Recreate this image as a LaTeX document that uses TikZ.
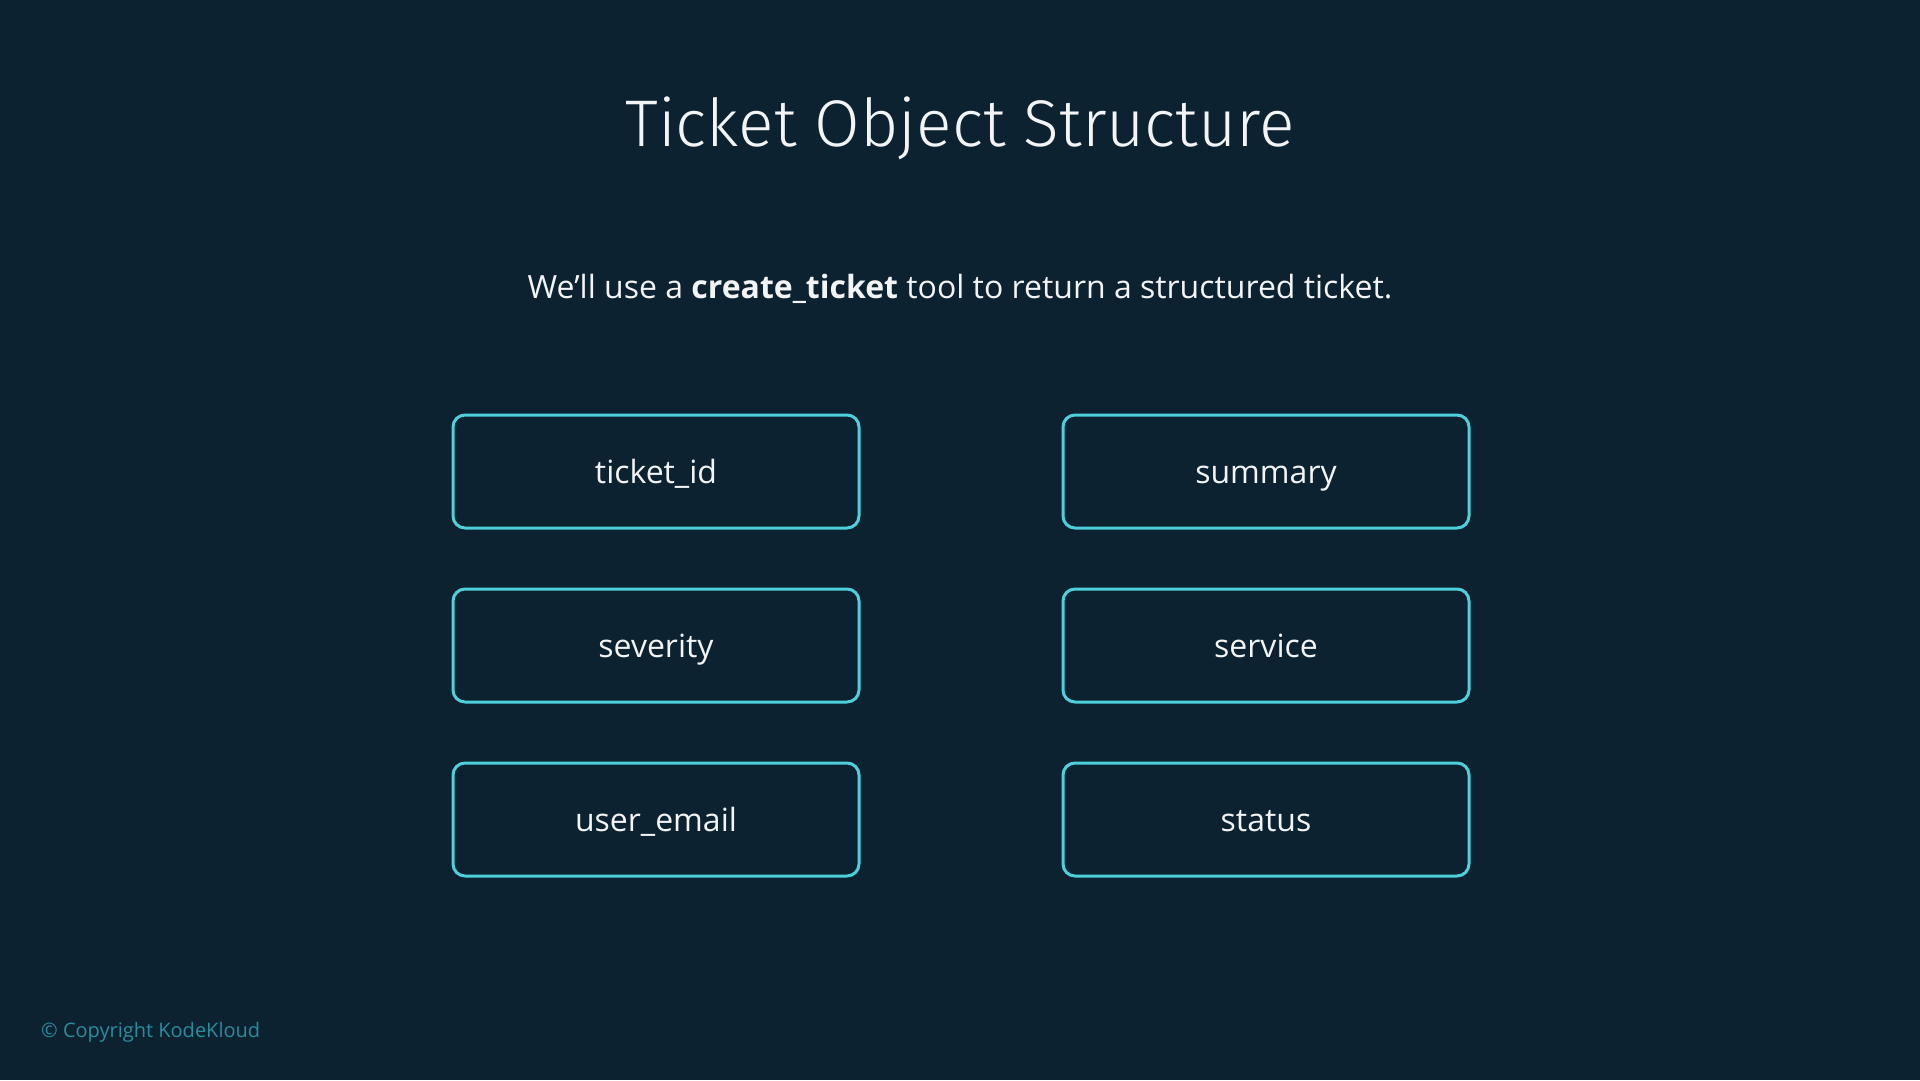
\documentclass[tikz,border=0pt]{standalone}
\usepackage{fontspec}
\setmainfont{Open Sans}
\newfontfamily\titlefont{Fira Sans Light}
\definecolor{bgc}{HTML}{0D2230}
\definecolor{cyanline}{HTML}{4FCFDB}
\definecolor{copyc}{HTML}{2A8C9E}
\definecolor{txt}{HTML}{F2F4F6}
\tikzset{
  field/.style={draw=cyanline, line width=3pt, rounded corners=12pt, minimum width=406pt, minimum height=113pt, inner sep=0pt, text=txt, text height=28pt, text depth=4pt, font=\fontsize{32}{38}\selectfont},
}
\begin{document}
\begin{tikzpicture}[x=1pt,y=-1pt]
\fill[bgc] (0,0) rectangle (1920,1080);
\useasboundingbox (0,0) rectangle (1920,1080);
\node[text=txt, font=\titlefont\fontsize{66}{78}\selectfont] (title) at (960,128) {Ticket Object Structure};
\node[text=txt, font=\fontsize{32}{38}\selectfont] (sub) at (960,289) {We’ll use a \textbf{create\_ticket} tool to return a structured ticket.};
\node[field] (tid) at (656,471.5) {ticket\_id};
\node[field] (sum) at (1266,471.5) {summary};
\node[field] (sev) at (656,645.5) {severity};
\node[field] (svc) at (1266,645.5) {service};
\node[field] (uem) at (656,819.5) {user\_email};
\node[field] (sta) at (1266,819.5) {status};
\node[text=copyc, font=\fontsize{20}{24}\selectfont, anchor=west, inner sep=0pt] (copy) at (41,1032) {© Copyright KodeKloud};
\end{tikzpicture}
\end{document}
